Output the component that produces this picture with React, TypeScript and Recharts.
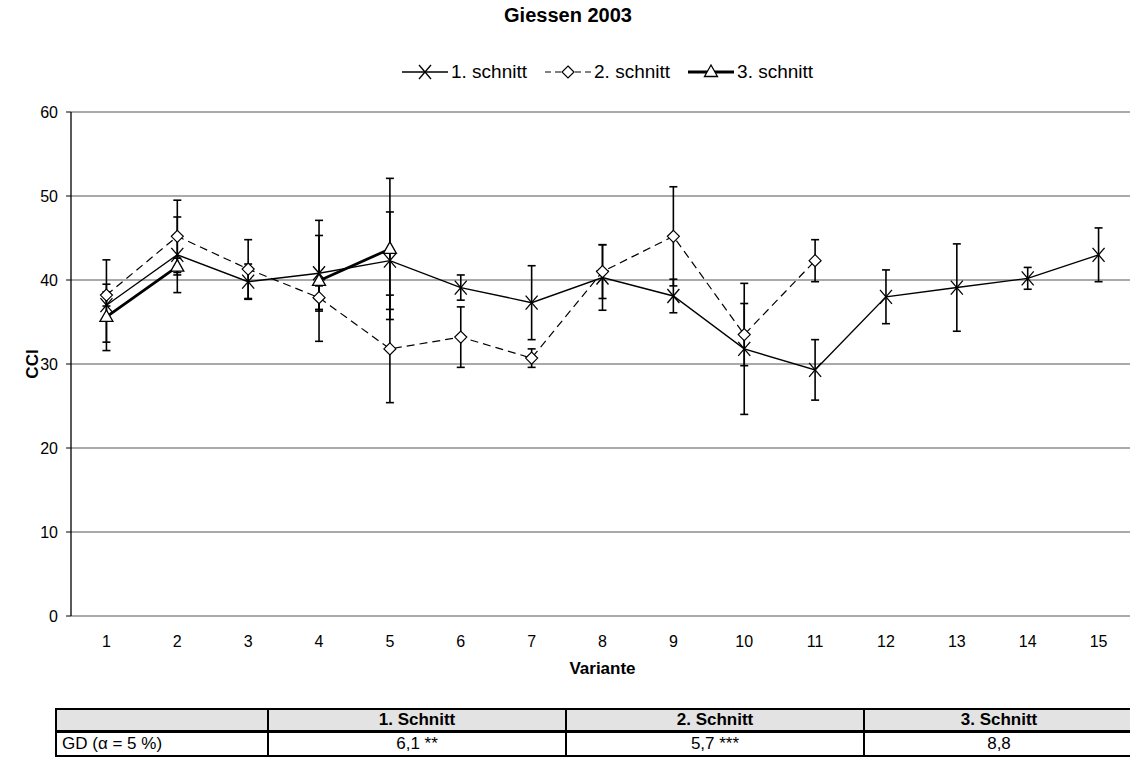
import React from 'react'
import {
  CartesianGrid,
  ErrorBar,
  Line,
  LineChart,
  XAxis,
  YAxis,
} from 'recharts'

const variante = [1, 2, 3, 4, 5, 6, 7, 8, 9, 10, 11, 12, 13, 14, 15]
const schnitt1 = [37.0, 43.0, 39.8, 40.8, 42.3, 39.1, 37.3, 40.3, 38.1, 31.8, 29.3, 38.0, 39.1, 40.2, 43.0]
const fehler1 = [5.4, 4.5, 2.1, 4.5, 5.8, 1.5, 4.4, 3.9, 2.0, 7.8, 3.6, 3.2, 5.2, 1.3, 3.2]
const schnitt2 = [38.2, 45.2, 41.3, 37.9, 31.8, 33.2, 30.7, 41.0, 45.2, 33.5, 42.3, null, null, null, null]
const fehler2 = [1.3, 4.3, 3.5, 1.4, 6.4, 3.6, 1.1, 3.2, 5.9, 3.7, 2.5, null, null, null, null]
const schnitt3 = [35.6, 41.6, null, 39.9, 43.7, null, null, null, null, null, null, null, null, null, null]
const fehler3 = [3.0, 1.0, null, 7.2, 8.4, null, null, null, null, null, null, null, null, null, null]
const yTicks = [0, 10, 20, 30, 40, 50, 60]

const tabHeader = ['', '1. Schnitt', '2. Schnitt', '3. Schnitt']
const tabRow = ['GD (α = 5 %)', '6,1 **', '5,7 ***', '8,8']

const data = variante.map((v, i) => ({
  v,
  s1: schnitt1[i],
  e1: fehler1[i],
  s2: schnitt2[i],
  e2: fehler2[i],
  s3: schnitt3[i],
  e3: fehler3[i],
}))

// tick marks sit on the category boundaries, labels in the middle
const bounds = [0, ...variante].map((v) => v + 0.5)

const FONT = '"Liberation Sans", Arial, sans-serif'

function XMark({ cx, cy }: { cx: number; cy: number }) {
  return (
    <g>
      <line x1={cx - 6} y1={cy - 7} x2={cx + 6} y2={cy + 7} stroke="#000" strokeWidth={1.3} />
      <line x1={cx - 6} y1={cy + 7} x2={cx + 6} y2={cy - 7} stroke="#000" strokeWidth={1.3} />
    </g>
  )
}

function Diamond({ cx, cy }: { cx: number; cy: number }) {
  return (
    <polygon
      points={`${cx},${cy - 6} ${cx + 6},${cy} ${cx},${cy + 6} ${cx - 6},${cy}`}
      fill="#fff"
      stroke="#000"
      strokeWidth={1.2}
    />
  )
}

function Triangle({ cx, cy }: { cx: number; cy: number }) {
  return (
    <polygon
      points={`${cx},${cy - 7} ${cx + 6.5},${cy + 4.5} ${cx - 6.5},${cy + 4.5}`}
      fill="#fff"
      stroke="#000"
      strokeWidth={1.3}
    />
  )
}

const dotOf = (Shape: typeof XMark) => (p: any) => {
  if (p.cx == null || p.cy == null || p.value == null) return <g key={p.key ?? p.index} />
  return <Shape key={p.key ?? p.index} cx={p.cx} cy={p.cy} />
}

const legendItems = [
  { name: '1. schnitt', Shape: XMark, width: 1.3, dash: undefined as string | undefined },
  { name: '2. schnitt', Shape: Diamond, width: 1.2, dash: '6 4' },
  { name: '3. schnitt', Shape: Triangle, width: 2.8, dash: undefined },
]

function CciLabel({ viewBox }: any) {
  const cy = viewBox.y + viewBox.height / 2
  return (
    <text
      x={38}
      y={cy}
      transform={`rotate(-90 38 ${cy})`}
      textAnchor="middle"
      fontSize={17}
      fontWeight="bold"
      fontFamily={FONT}
      fill="#000"
    >
      CCI
    </text>
  )
}

export default function App() {
  const cell: React.CSSProperties = {
    border: '2px solid #000',
    textAlign: 'center',
    padding: 0,
    fontSize: 17,
  }
  return (
    <div
      style={{
        position: 'absolute',
        left: 0,
        top: 0,
        width: 1130,
        height: 760,
        overflow: 'hidden',
        background: '#fff',
        fontFamily: FONT,
        color: '#000',
      }}
    >
      <div
        style={{ position: 'absolute', top: 4, left: 0, width: 1136, textAlign: 'center', fontSize: 20, fontWeight: 'bold' }}
      >
        Giessen 2003
      </div>

      <div style={{ position: 'absolute', top: 61, left: 402, display: 'flex', alignItems: 'center', fontSize: 19 }}>
        {legendItems.map((it, i) => (
          <span key={it.name} style={{ display: 'inline-flex', alignItems: 'center', marginRight: i < 2 ? 18 : 0 }}>
            <svg width={46} height={20}>
              <line x1={0} y1={10} x2={46} y2={10} stroke="#000" strokeWidth={it.width} strokeDasharray={it.dash} />
              <it.Shape cx={23} cy={10} />
            </svg>
            <span style={{ marginLeft: 3 }}>{it.name}</span>
          </span>
        ))}
      </div>

      <div style={{ position: 'absolute', top: 0, left: 0 }}>
        <LineChart width={1140} height={700} data={data} margin={{ top: 112, right: 6, bottom: 20, left: 0 }}>
          <CartesianGrid horizontal vertical={false} stroke="#555" />
          <XAxis
            type="number"
            dataKey="v"
            domain={[0.5, 15.5]}
            allowDataOverflow
            ticks={bounds}
            height={0}
            tickFormatter={() => ''}
            tickSize={5}
            tickLine={{ stroke: '#000' }}
            axisLine={{ stroke: '#000', strokeWidth: 1.3 }}
          />
          <XAxis
            xAxisId="lab"
            type="number"
            dataKey="v"
            domain={[0.5, 15.5]}
            allowDataOverflow
            ticks={variante}
            height={64}
            axisLine={false}
            tickLine={false}
            tickSize={10}
            tickMargin={10}
            tick={{ fill: '#000', fontSize: 16, fontFamily: FONT }}
            label={{ value: 'Variante', position: 'insideBottom', offset: 6, fill: '#000', fontSize: 17, fontWeight: 'bold', fontFamily: FONT }}
          />
          <YAxis
            domain={[0, 60]}
            ticks={yTicks}
            width={71}
            tickSize={5}
            tickMargin={8}
            tickLine={{ stroke: '#000' }}
            axisLine={{ stroke: '#000', strokeWidth: 1.3 }}
            tick={{ fill: '#000', fontSize: 16, fontFamily: FONT }}
            label={<CciLabel />}
          />
          <Line
            dataKey="s1"
            name="1. schnitt"
            stroke="#000"
            strokeWidth={1.4}
            dot={dotOf(XMark)}
            activeDot={false}
            isAnimationActive={false}
          >
            <ErrorBar dataKey="e1" direction="y" width={4} stroke="#000" strokeWidth={1.6} />
          </Line>
          <Line
            dataKey="s2"
            name="2. schnitt"
            stroke="#000"
            strokeWidth={1.2}
            strokeDasharray="8 5"
            dot={dotOf(Diamond)}
            activeDot={false}
            isAnimationActive={false}
          >
            <ErrorBar dataKey="e2" direction="y" width={4} stroke="#000" strokeWidth={1.6} />
          </Line>
          <Line
            dataKey="s3"
            name="3. schnitt"
            stroke="#000"
            strokeWidth={2.8}
            dot={dotOf(Triangle)}
            activeDot={false}
            isAnimationActive={false}
          >
            <ErrorBar dataKey="e3" direction="y" width={4} stroke="#000" strokeWidth={1.6} />
          </Line>
        </LineChart>
      </div>

      <table
        style={{
          position: 'absolute',
          top: 708,
          left: 55,
          width: 1078,
          borderCollapse: 'collapse',
          tableLayout: 'fixed',
          fontFamily: FONT,
        }}
      >
        <colgroup>
          <col style={{ width: 212 }} />
          <col style={{ width: 298 }} />
          <col style={{ width: 298 }} />
          <col style={{ width: 270 }} />
        </colgroup>
        <thead>
          <tr style={{ height: 20, background: '#e3e3e3' }}>
            {tabHeader.map((h, i) => (
              <th key={i} style={{ ...cell, fontWeight: 'bold', borderBottom: '3px solid #000' }}>
                {h}
              </th>
            ))}
          </tr>
        </thead>
        <tbody>
          <tr style={{ height: 24 }}>
            {tabRow.map((c, i) => (
              <td key={i} style={{ ...cell, textAlign: i === 0 ? 'left' : 'center', paddingLeft: i === 0 ? 5 : 0 }}>
                {c}
              </td>
            ))}
          </tr>
        </tbody>
      </table>
    </div>
  )
}
